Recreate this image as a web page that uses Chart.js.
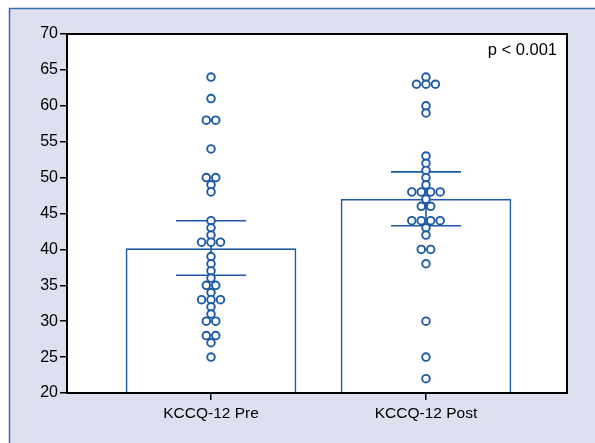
<!DOCTYPE html>
<html><head><meta charset="utf-8">
<script src="https://cdn.jsdelivr.net/npm/chart.js@4/dist/chart.umd.min.js"></script>
<style>html,body{margin:0;padding:0;background:#fff}#c{display:block}</style>
</head><body>
<canvas id="c" width="595" height="443"></canvas>
<script>
// ---- data ----
const categories = ['KCCQ-12 Pre', 'KCCQ-12 Post'];
const barMeans = [40.1, 47.0];
const ciUpper = [44.0, 50.8];
const ciLower = [36.4, 43.3];
const preScores = [64, 61, 58, 58, 54, 50, 50, 49, 48, 44, 43, 42, 41, 41, 41, 39, 38, 37, 36, 35, 35, 34, 33, 33, 33, 32, 31, 30, 30, 28, 28, 27, 25];
const postScores = [64, 63, 63, 63, 60, 59, 53, 52, 51, 50, 49, 48, 48, 48, 48, 47, 46, 46, 44, 44, 44, 44, 43, 42, 40, 40, 38, 30, 25, 22];
const yTickValues = [20, 25, 30, 35, 40, 45, 50, 55, 60, 65, 70];
const pValueLabel = 'p < 0.001';

// ---- layout / style constants ----
const X_MIN = -0.67, X_MAX = 1.656;
const SWARM_STEP = 0.044;
const WHISKER = 0.163;
const BLUE = '#1c5aa5';
const LAVENDER = '#dce0ef';
const FONT = "'Liberation Sans',Arial,sans-serif";

function swarm(scores, idx) {
  const counts = {}, seen = {};
  scores.forEach(v => counts[v] = (counts[v] || 0) + 1);
  return scores.map(v => {
    const n = counts[v];
    const k = (seen[v] = (seen[v] || 0) + 1) - 1;
    return { x: idx + (k - (n - 1) / 2) * SWARM_STEP, y: v };
  });
}
function errorBar(i) {
  return [
    { x: i - WHISKER, y: ciUpper[i] }, { x: i + WHISKER, y: ciUpper[i] }, { x: i, y: null },
    { x: i, y: ciUpper[i] }, { x: i, y: ciLower[i] }, { x: i, y: null },
    { x: i - WHISKER, y: ciLower[i] }, { x: i + WHISKER, y: ciLower[i] }
  ];
}

const framePlugin = {
  id: 'frame',
  beforeDraw(chart) {
    const c = chart.ctx, W = chart.width, H = chart.height, a = chart.chartArea;
    c.save();
    c.fillStyle = '#ffffff'; c.fillRect(0, 0, W, H);
    c.fillStyle = LAVENDER; c.fillRect(9, 8, W - 9, H - 8);
    c.strokeStyle = '#3a6db3'; c.lineWidth = 1.5;
    c.beginPath(); c.moveTo(9.5, H); c.lineTo(9.5, 8.5); c.lineTo(W, 8.5); c.stroke();
    c.fillStyle = '#ffffff'; c.fillRect(a.left, a.top, a.right - a.left, a.bottom - a.top);
    c.restore();
  },
  afterDraw(chart) {
    const c = chart.ctx, a = chart.chartArea;
    c.save();
    c.strokeStyle = '#000'; c.lineWidth = 2;
    c.strokeRect(a.left, a.top, a.right - a.left, a.bottom - a.top);
    c.fillStyle = '#000'; c.font = '16.5px ' + FONT;
    c.textAlign = 'right'; c.textBaseline = 'middle';
    c.fillText(pValueLabel, a.right - 10, a.top + 16);
    c.restore();
  }
};

const gridStyle = { drawOnChartArea: false, drawTicks: true, tickLength: 7, color: '#000', lineWidth: 1.5 };

new Chart(document.getElementById('c'), {
  type: 'bar',
  data: {
    datasets: [
      {
        type: 'bar', order: 3,
        data: barMeans.map((v, i) => ({ x: i, y: v })),
        backgroundColor: '#ffffff', borderColor: BLUE, borderWidth: 1.6,
        barThickness: 170, borderSkipped: 'start'
      },
      { type: 'line', order: 2, data: errorBar(0), borderColor: BLUE, borderWidth: 1.6, pointRadius: 0, spanGaps: false, fill: false },
      { type: 'line', order: 2, data: errorBar(1), borderColor: BLUE, borderWidth: 1.6, pointRadius: 0, spanGaps: false, fill: false },
      {
        type: 'scatter', order: 1, data: swarm(preScores, 0),
        pointRadius: 3.8, pointBorderWidth: 1.9, pointBackgroundColor: '#fff', pointBorderColor: BLUE
      },
      {
        type: 'scatter', order: 1, data: swarm(postScores, 1),
        pointRadius: 3.8, pointBorderWidth: 1.9, pointBackgroundColor: '#fff', pointBorderColor: BLUE
      }
    ]
  },
  options: {
    responsive: false, animation: false, devicePixelRatio: 1,
    layout: { padding: { left: 0, right: 28, top: 34, bottom: 0 } },
    plugins: { legend: { display: false }, tooltip: { enabled: false } },
    scales: {
      x: {
        type: 'linear', min: X_MIN, max: X_MAX, offset: false, grace: 0,
        afterBuildTicks: s => { s.ticks = categories.map((_, i) => ({ value: i })); },
        afterFit: s => { s.height = 50; },
        ticks: { callback: v => categories[v] ?? '', color: '#000', padding: 4, font: { family: FONT, size: 15.5 }, maxRotation: 0, autoSkip: false },
        grid: { ...gridStyle, offset: false },
        border: { display: true, color: '#000', width: 2 }
      },
      y: {
        min: 20, max: 70,
        afterBuildTicks: s => { s.ticks = yTickValues.map(v => ({ value: v })); },
        afterFit: s => { s.width = 67; },
        ticks: { color: '#000', padding: 2, font: { family: FONT, size: 16 } },
        grid: gridStyle,
        border: { display: true, color: '#000', width: 2 }
      }
    }
  },
  plugins: [framePlugin]
});
</script>
</body></html>
